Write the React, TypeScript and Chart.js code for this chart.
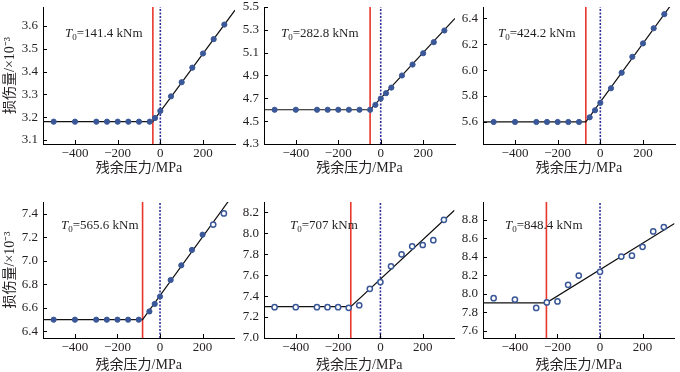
import React, { useEffect, useRef } from "react";
import { Chart, registerables } from "chart.js";
Chart.register(...registerables);

// ---------- shared axis data ----------
const xMin = -550;
const xMax = 350;
const xTicks = [-400, -200, 0, 200];
const xTitle = "残余压力/MPa";
const yTitle = "损伤量/×10⁻³";

// ---------- panel 1 : T0 = 141.4 kNm ----------
const torque1 = "141.4";
const pressures1 = [-500, -400, -300, -250, -200, -150, -100, -50, -25, 0, 50, 100, 150, 200, 250, 300];
const damage1 = [3.18, 3.18, 3.18, 3.18, 3.18, 3.18, 3.18, 3.18, 3.196, 3.227, 3.291, 3.353, 3.417, 3.479, 3.542, 3.606];
const yTicks1 = [3.1, 3.2, 3.3, 3.4, 3.5, 3.6];
const yRange1 = [3.082, 3.683];
const knee1 = -35;
const fit1 = [3.18, 3.18, 3.669];

// ---------- panel 2 : T0 = 282.8 kNm ----------
const torque2 = "282.8";
const pressures2 = [-500, -400, -300, -250, -200, -150, -100, -50, -25, 0, 25, 50, 100, 150, 200, 250, 300];
const damage2 = [4.6, 4.6, 4.6, 4.6, 4.6, 4.6, 4.6, 4.6, 4.643, 4.698, 4.745, 4.794, 4.9, 4.996, 5.095, 5.192, 5.294];
const yTicks2 = [4.3, 4.5, 4.7, 4.9, 5.1, 5.3, 5.5];
const yRange2 = [4.3, 5.5];
const knee2 = -50;
const fit2 = [4.6, 4.6, 5.4];

// ---------- panel 3 : T0 = 424.2 kNm ----------
const torque3 = "424.2";
const pressures3 = [-500, -400, -300, -250, -200, -150, -100, -50, -25, 0, 50, 100, 150, 200, 250, 300];
const damage3 = [5.6, 5.6, 5.6, 5.6, 5.6, 5.6, 5.6, 5.636, 5.69, 5.748, 5.86, 5.98, 6.103, 6.206, 6.323, 6.432];
const yTicks3 = [5.6, 5.8, 6.0, 6.2, 6.4];
const yRange3 = [5.43, 6.487];
const knee3 = -68;
const fit3 = [5.6, 5.6, 6.545];

// ---------- panel 4 : T0 = 565.6 kNm ----------
const torque4 = "565.6";
const pressures4 = [-500, -400, -300, -250, -200, -150, -100, -50, -25, 0, 50, 100, 150, 200, 250, 300];
const damage4 = [6.5, 6.5, 6.5, 6.5, 6.5, 6.5, 6.5, 6.57, 6.634, 6.697, 6.838, 6.963, 7.094, 7.224, 7.31, 7.405];
const yTicks4 = [6.4, 6.6, 6.8, 7.0, 7.2, 7.4];
const yRange4 = [6.344, 7.502];
const knee4 = -82;
const fit4 = [6.5, 6.5, 7.58];

// ---------- panel 5 : T0 = 707 kNm ----------
const torque5 = "707";
const pressures5 = [-500, -400, -300, -250, -200, -150, -100, -50, 0, 50, 100, 150, 200, 250, 300];
const damage5 = [7.295, 7.295, 7.295, 7.295, 7.295, 7.288, 7.313, 7.47, 7.535, 7.686, 7.8, 7.876, 7.889, 7.935, 8.13];
const yTicks5 = [7.0, 7.2, 7.4, 7.6, 7.8, 8.0, 8.2];
const yRange5 = [7.0, 8.3];
const knee5 = -140;
const fit5 = [7.3, 7.3, 8.221];

// ---------- panel 6 : T0 = 848.4 kNm ----------
const torque6 = "848.4";
const pressures6 = [-500, -400, -300, -250, -200, -150, -100, 0, 100, 150, 200, 250, 300];
const damage6 = [7.95, 7.935, 7.845, 7.905, 7.915, 8.095, 8.195, 8.235, 8.4, 8.41, 8.505, 8.672, 8.72];
const yTicks6 = [7.6, 7.8, 8.0, 8.2, 8.4, 8.6, 8.8];
const yRange6 = [7.52, 8.99];
const knee6 = -252;
const fit6 = [7.9, 7.9, 8.758];

// ---------- styles ----------
const FONT = "'Liberation Serif', 'Times New Roman', 'Noto Sans CJK SC', serif";
const TEXT = "#231f20";
const BLUE = "#3a5797";
const RED = "#e8362d";
const DASH = "#2e2f9a";

type Panel = {
  torque: string; xs: number[]; ys: number[]; yTicks: number[]; yRange: number[];
  knee: number; fit: number[];
  left: number; top: number; w: number; h: number; padTop: number; padRight: number;
  yW: number; xH: number; yTitle: boolean; titlePadBottom: number;
  annDx: number; annDy: number; hollow: (i: number) => boolean;
};

const panels: Panel[] = [
  { torque: torque1, xs: pressures1, ys: damage1, yTicks: yTicks1, yRange: yRange1, knee: knee1, fit: fit1,
    left: 0, top: 0, w: 240, h: 185, padTop: 7, padRight: 2, yW: 43, xH: 41, yTitle: true, titlePadBottom: 10,
    annDx: 22, annDy: 26, hollow: () => false },
  { torque: torque2, xs: pressures2, ys: damage2, yTicks: yTicks2, yRange: yRange2, knee: knee2, fit: fit2,
    left: 240, top: 0, w: 220, h: 185, padTop: 7, padRight: 1, yW: 24, xH: 41, yTitle: false, titlePadBottom: 10,
    annDx: 17, annDy: 26, hollow: () => false },
  { torque: torque3, xs: pressures3, ys: damage3, yTicks: yTicks3, yRange: yRange3, knee: knee3, fit: fit3,
    left: 460, top: 0, w: 220, h: 185, padTop: 7, padRight: 2, yW: 23, xH: 41, yTitle: false, titlePadBottom: 10,
    annDx: 15, annDy: 26, hollow: () => false },
  { torque: torque4, xs: pressures4, ys: damage4, yTicks: yTicks4, yRange: yRange4, knee: knee4, fit: fit4,
    left: 0, top: 185, w: 240, h: 187, padTop: 17, padRight: 2, yW: 43, xH: 34, yTitle: true, titlePadBottom: 0,
    annDx: 18, annDy: 23, hollow: (i) => i >= 14 },
  { torque: torque5, xs: pressures5, ys: damage5, yTicks: yTicks5, yRange: yRange5, knee: knee5, fit: fit5,
    left: 240, top: 185, w: 220, h: 187, padTop: 17, padRight: 1, yW: 24, xH: 34, yTitle: false, titlePadBottom: 0,
    annDx: 26, annDy: 23, hollow: () => true },
  { torque: torque6, xs: pressures6, ys: damage6, yTicks: yTicks6, yRange: yRange6, knee: knee6, fit: fit6,
    left: 460, top: 185, w: 220, h: 187, padTop: 17, padRight: 2, yW: 23, xH: 34, yTitle: false, titlePadBottom: 0,
    annDx: 22, annDy: 23, hollow: () => true },
];

const fmtX = (v: number) => (v < 0 ? "\u2212" + Math.abs(v) : String(v));

function makeChart(canvas: HTMLCanvasElement, p: Panel) {
  const inwardTicks = {
    id: "inwardTicks",
    afterDraw(chart: any) {
      const { ctx, chartArea } = chart;
      const sx = chart.scales.x;
      const sy = chart.scales.y;
      ctx.save();
      ctx.strokeStyle = "#000";
      ctx.lineWidth = 1;
      ctx.beginPath();
      for (const v of xTicks) {
        const px = Math.round(sx.getPixelForValue(v)) + 0.5;
        ctx.moveTo(px, chartArea.bottom);
        ctx.lineTo(px, chartArea.bottom - 4);
      }
      for (const v of p.yTicks) {
        const py = Math.round(sy.getPixelForValue(v)) + 0.5;
        ctx.moveTo(chartArea.left, py);
        ctx.lineTo(chartArea.left + 4, py);
      }
      ctx.stroke();
      // annotation: T0 = ... kNm
      const x0 = chartArea.left + p.annDx;
      const y0 = chartArea.top + p.annDy;
      ctx.fillStyle = TEXT;
      ctx.textBaseline = "alphabetic";
      ctx.font = `italic 13px ${FONT}`;
      ctx.fillText("T", x0, y0 + 4);
      let x = x0 + ctx.measureText("T").width;
      ctx.font = `9px ${FONT}`;
      ctx.fillText("0", x, y0 + 7);
      x += ctx.measureText("0").width;
      ctx.font = `13px ${FONT}`;
      ctx.fillText(`=${p.torque} kNm`, x, y0 + 4);
      ctx.restore();
    },
  };

  const points = p.xs.map((x, i) => ({ x, y: p.ys[i] }));
  const [yMin, yMax] = p.yRange;

  return new Chart(canvas, {
    type: "scatter",
    data: {
      datasets: [
        {
          type: "scatter",
          data: points,
          pointRadius: 2.6,
          pointBorderWidth: (ctx: any) => (p.hollow(ctx.dataIndex) ? 1.5 : 1),
          pointBackgroundColor: (ctx: any) => (p.hollow(ctx.dataIndex) ? "#ffffff" : BLUE),
          pointBorderColor: BLUE,
        } as any,
        {
          type: "line",
          data: [
            { x: xMin, y: p.fit[0] },
            { x: p.knee, y: p.fit[1] },
            { x: xMax, y: p.fit[2] },
          ],
          borderColor: "#111",
          borderWidth: 1.2,
          pointRadius: 0,
          fill: false,
          tension: 0,
        } as any,
        {
          type: "line",
          data: [{ x: 0, y: yMin }, { x: 0, y: yMax }],
          borderColor: DASH,
          borderWidth: 1.6,
          borderDash: [2, 1.5],
          pointRadius: 0,
          fill: false,
        } as any,
        {
          type: "line",
          data: [{ x: p.knee, y: yMin }, { x: p.knee, y: yMax }],
          borderColor: RED,
          borderWidth: 1.6,
          pointRadius: 0,
          fill: false,
        } as any,
      ],
    },
    options: {
      animation: false,
      responsive: false,
      maintainAspectRatio: false,
      devicePixelRatio: 1,
      layout: { padding: { top: p.padTop, right: p.padRight, left: 0, bottom: 0 } },
      plugins: { legend: { display: false }, tooltip: { enabled: false } },
      scales: {
        x: {
          type: "linear",
          min: xMin,
          max: xMax,
          grid: { display: false, drawTicks: false },
          border: { display: true, color: "#000", width: 1 },
          ticks: {
            font: { family: FONT, size: 13 },
            color: TEXT,
            padding: 2,
            callback: (v: any) => fmtX(Number(v)),
          },
          afterBuildTicks: (s: any) => {
            s.ticks = xTicks.map((v) => ({ value: v }));
          },
          afterFit: (s: any) => {
            s.height = p.xH;
            s.paddingLeft = 0;
            s.paddingRight = 0;
            s.paddingTop = 0;
            s.paddingBottom = 0;
          },
          title: {
            display: true,
            text: xTitle,
            font: { family: FONT, size: 14, lineHeight: 1 },
            color: TEXT,
            padding: { top: 0, bottom: p.titlePadBottom },
          },
        },
        y: {
          type: "linear",
          min: yMin,
          max: yMax,
          grid: { display: false, drawTicks: false },
          border: { display: true, color: "#000", width: 1 },
          ticks: {
            font: { family: FONT, size: 13 },
            color: TEXT,
            padding: 5,
            callback: (v: any) => Number(v).toFixed(1),
          },
          afterBuildTicks: (s: any) => {
            s.ticks = p.yTicks.map((v) => ({ value: v }));
          },
          afterFit: (s: any) => {
            s.width = p.yW;
            s.paddingTop = 0;
            s.paddingBottom = 0;
            s.paddingLeft = 0;
            s.paddingRight = 0;
          },
          title: {
            display: p.yTitle,
            text: yTitle,
            font: { family: FONT, size: 14, lineHeight: 1 },
            color: TEXT,
            padding: { top: 3, bottom: 0 },
          },
        },
      },
    } as any,
    plugins: [inwardTicks],
  });
}

function PanelChart({ p }: { p: Panel }) {
  const ref = useRef<HTMLCanvasElement | null>(null);
  useEffect(() => {
    if (!ref.current) return;
    const c = makeChart(ref.current, p);
    return () => c.destroy();
  }, [p]);
  return (
    <canvas
      ref={ref}
      width={p.w}
      height={p.h}
      style={{ position: "absolute", left: p.left, top: p.top, width: p.w, height: p.h }}
    />
  );
}

export default function App() {
  return (
    <div style={{ position: "fixed", left: 0, top: 0, width: 680, height: 372, background: "#fff", overflow: "hidden" }}>
      {panels.map((p, i) => (
        <PanelChart key={i} p={p} />
      ))}
    </div>
  );
}
